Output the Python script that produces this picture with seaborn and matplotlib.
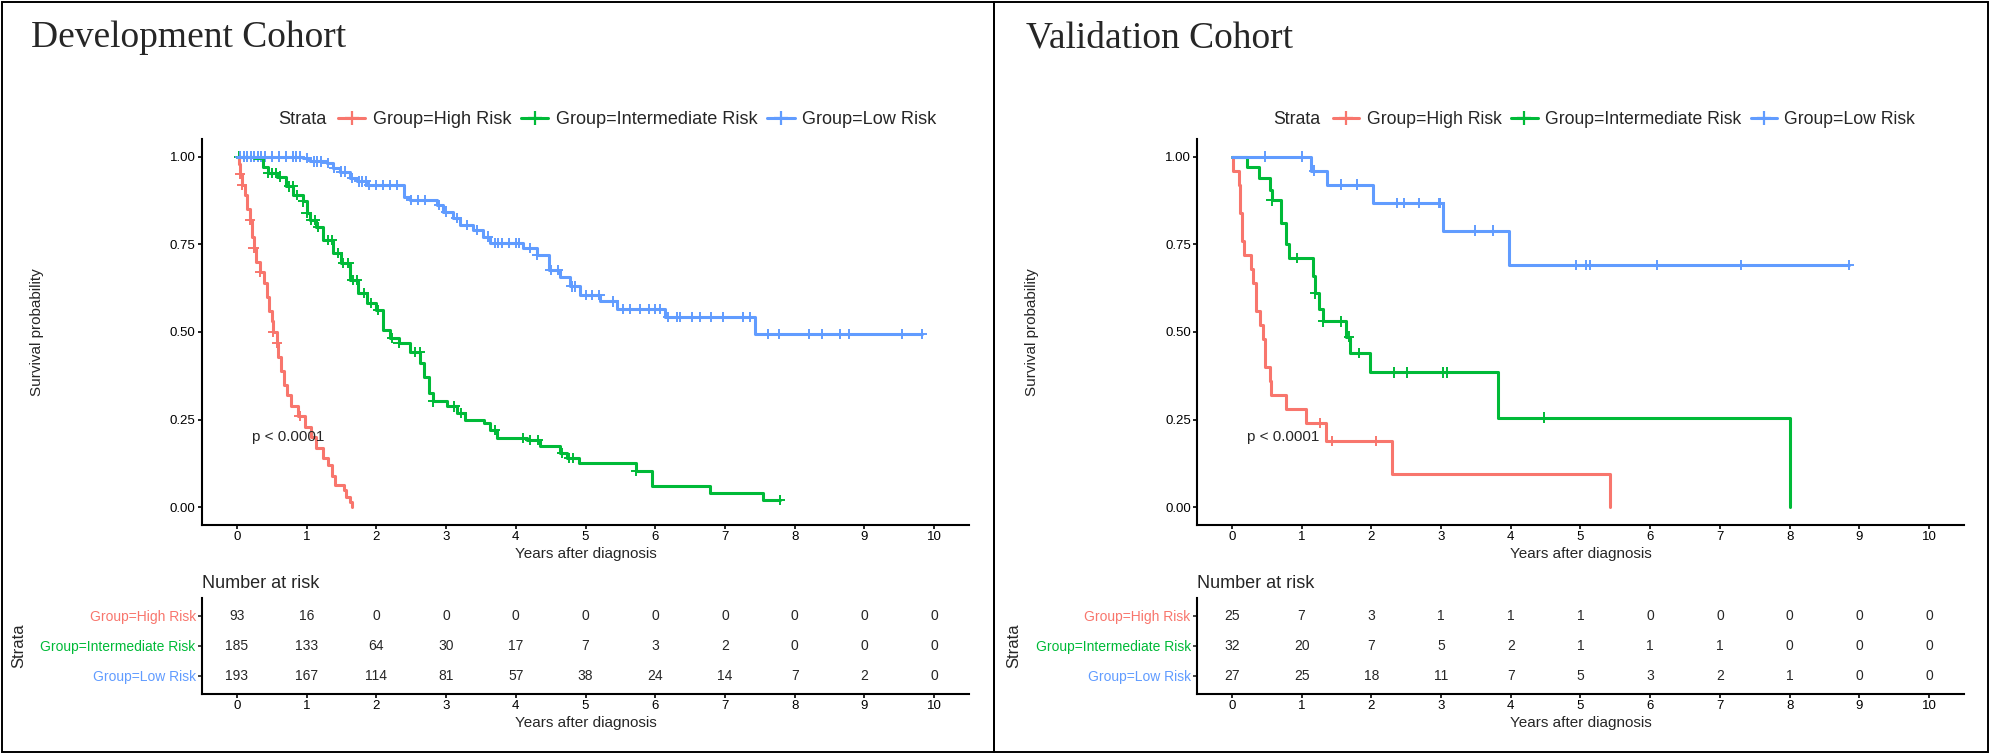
# Kaplan-Meier curves for the development and validation cohorts, with risk tables
import numpy as np
import pandas as pd
import seaborn as sns
import matplotlib.pyplot as plt
from matplotlib.lines import Line2D
from matplotlib.patches import Rectangle

sns.set_style("ticks")
plt.rcParams['font.family'] = ['Liberation Sans', 'DejaVu Sans']

# Groups, colours and risk table times
groups = ["Group=High Risk", "Group=Intermediate Risk", "Group=Low Risk"]
colors = ["#F8766D", "#00BA38", "#619CFF"]
years = [0, 1, 2, 3, 4, 5, 6, 7, 8, 9, 10]

# Development cohort: step points (time in years, survival)
dev_high_t = [0, 0.03, 0.04, 0.07, 0.12, 0.15, 0.19, 0.22, 0.24, 0.28, 0.33, 0.39, 0.43, 0.46,
              0.50, 0.52, 0.57, 0.59, 0.63, 0.68, 0.72, 0.78, 0.88, 0.98, 1.07, 1.14, 1.24,
              1.30, 1.36, 1.41, 1.53, 1.57, 1.62, 1.65]
dev_high_s = [1.0, 0.98, 0.95, 0.92, 0.89, 0.85, 0.82, 0.77, 0.74, 0.70, 0.67, 0.64, 0.60, 0.56,
              0.53, 0.50, 0.47, 0.43, 0.39, 0.35, 0.32, 0.29, 0.26, 0.23, 0.20, 0.17, 0.14,
              0.12, 0.09, 0.065, 0.05, 0.03, 0.015, 0.0]
dev_high_cens = [0.04, 0.07, 0.19, 0.24, 0.33, 0.52, 0.58, 0.90]

dev_int_t = [0, 0.25, 0.38, 0.45, 0.57, 0.71, 0.81, 0.95, 1.0, 1.05, 1.14, 1.24, 1.38, 1.50,
             1.62, 1.74, 1.86, 2.0, 2.1, 2.2, 2.32, 2.48, 2.63, 2.68, 2.75, 2.82, 3.01, 3.15,
             3.27, 3.54, 3.63, 3.73, 4.16, 4.35, 4.64, 4.73, 4.9, 5.73, 5.95, 6.79, 7.54, 7.79]
dev_int_s = [1.0, 0.995, 0.97, 0.953, 0.943, 0.915, 0.89, 0.872, 0.84, 0.82, 0.80, 0.763, 0.725,
             0.696, 0.649, 0.611, 0.582, 0.563, 0.506, 0.482, 0.468, 0.444, 0.411, 0.373, 0.325,
             0.302, 0.288, 0.269, 0.25, 0.24, 0.221, 0.198, 0.193, 0.174, 0.155, 0.141, 0.127,
             0.103, 0.062, 0.041, 0.022, 0.022]
dev_int_cens = [0.03, 0.45, 0.50, 0.56, 0.62, 0.75, 0.80, 0.86, 0.95, 1.0, 1.06, 1.12, 1.16, 1.30,
                1.36, 1.45, 1.52, 1.60, 1.66, 1.72, 1.82, 1.92, 2.02, 2.22, 2.32, 2.56, 2.62,
                2.82, 3.12, 3.22, 3.70, 4.10, 4.20, 4.32, 4.66, 4.76, 4.82, 5.73, 7.79]

dev_low_t = [0, 0.95, 1.05, 1.29, 1.38, 1.48, 1.62, 1.72, 1.86, 2.39, 2.48, 2.87, 2.96, 3.1, 3.2,
             3.39, 3.53, 3.63, 4.11, 4.3, 4.47, 4.63, 4.78, 4.92, 5.21, 5.45, 6.14, 7.43, 9.82]
dev_low_s = [1.0, 0.995, 0.986, 0.981, 0.967, 0.957, 0.938, 0.929, 0.919, 0.886, 0.877, 0.862,
             0.843, 0.824, 0.805, 0.791, 0.772, 0.753, 0.739, 0.72, 0.677, 0.658, 0.63, 0.606,
             0.587, 0.566, 0.543, 0.495, 0.495]
dev_low_cens = [0.05, 0.10, 0.15, 0.20, 0.25, 0.30, 0.35, 0.40, 0.50, 0.60, 0.70, 0.80, 0.85, 0.90,
                1.00, 1.10, 1.15, 1.20, 1.30, 1.40, 1.50, 1.55, 1.65, 1.75, 1.80, 1.85, 1.90,
                2.00, 2.10, 2.20, 2.30, 2.50, 2.60, 2.70, 2.90, 3.00, 3.15, 3.30, 3.45, 3.60,
                3.70, 3.75, 3.80, 3.90, 4.00, 4.05, 4.20, 4.30, 4.50, 4.60, 4.80, 4.85, 5.00,
                5.10, 5.20, 5.40, 5.54, 5.64, 5.78, 5.91, 6.00, 6.07, 6.19, 6.31, 6.36, 6.53,
                6.64, 6.80, 6.97, 7.26, 7.36, 7.62, 7.78, 8.21, 8.39, 8.65, 8.78, 9.54, 9.82]

dev_risk_high = [93, 16, 0, 0, 0, 0, 0, 0, 0, 0, 0]
dev_risk_int = [185, 133, 64, 30, 17, 7, 3, 2, 0, 0, 0]
dev_risk_low = [193, 167, 114, 81, 57, 38, 24, 14, 7, 2, 0]

# Validation cohort
val_high_t = [0, 0.02, 0.10, 0.12, 0.15, 0.17, 0.27, 0.31, 0.35, 0.40, 0.45, 0.48, 0.54, 0.56,
              0.77, 1.06, 1.35, 2.30, 5.42]
val_high_s = [1.0, 0.96, 0.92, 0.84, 0.76, 0.72, 0.68, 0.64, 0.56, 0.52, 0.48, 0.40, 0.36, 0.32,
              0.28, 0.24, 0.19, 0.095, 0.0]
val_high_cens = [1.27, 1.44, 2.07]

val_int_t = [0, 0.22, 0.385, 0.54, 0.57, 0.70, 0.77, 0.82, 1.17, 1.19, 1.25, 1.30, 1.63, 1.69,
             1.98, 3.82, 8.0]
val_int_s = [1.0, 0.969, 0.938, 0.906, 0.875, 0.81, 0.75, 0.71, 0.66, 0.61, 0.565, 0.53, 0.487,
             0.44, 0.385, 0.256, 0.0]
val_int_cens = [0.57, 0.93, 1.19, 1.31, 1.57, 1.68, 1.82, 2.32, 2.51, 3.03, 3.09, 4.48]

val_low_t = [0, 1.14, 1.37, 2.03, 3.03, 3.97, 8.85]
val_low_s = [1.0, 0.96, 0.92, 0.868, 0.789, 0.69, 0.69]
val_low_cens = [0.48, 1.0, 1.18, 1.56, 1.80, 2.37, 2.47, 2.68, 2.97, 2.99, 3.48, 3.75, 4.93,
                5.08, 5.13, 6.09, 7.30, 8.85]

val_risk_high = [25, 7, 3, 1, 1, 1, 0, 0, 0, 0, 0]
val_risk_int = [32, 20, 7, 5, 2, 1, 1, 1, 0, 0, 0]
val_risk_low = [27, 25, 18, 11, 7, 5, 3, 2, 1, 0, 0]

# Figure in pixels
W, H = 1991, 754
fig = plt.figure(figsize=(W / 100, H / 100), dpi=100)


def box(x0, y0, x1, y1):
    # pixel box (y from top) -> figure fraction
    return [x0 / W, 1 - y1 / H, (x1 - x0) / W, (y1 - y0) / H]


def draw_cohort(px, title, curves, censors, risks, leg_size):
    # curves: list of (t, s) per group
    ax = fig.add_axes(box(px, 139, px + 767, 525))
    frames = []
    cframes = []
    for g, (t, s), ct in zip(groups, curves, censors):
        frames.append(pd.DataFrame({"time": t, "surv": s, "group": g}))
        idx = np.searchsorted(t, ct, side="right") - 1
        cframes.append(pd.DataFrame({"time": ct, "surv": np.array(s)[idx], "group": g}))
    df = pd.concat(frames)
    cdf = pd.concat(cframes)

    sns.lineplot(data=df, x="time", y="surv", hue="group", hue_order=groups, palette=colors,
                 drawstyle="steps-post", estimator=None, legend=False, linewidth=2.2, ax=ax)
    sns.scatterplot(data=cdf, x="time", y="surv", hue="group", hue_order=groups, palette=colors,
                    marker="+", s=55, linewidth=1.4, legend=False, ax=ax)

    ax.set_xlim(-0.5, 10.5)
    ax.set_ylim(-0.05, 1.05)
    ax.set_xticks(years)
    ax.set_yticks([0, 0.25, 0.5, 0.75, 1.0])
    ax.set_yticklabels(["0.00", "0.25", "0.50", "0.75", "1.00"])
    sns.despine(ax=ax)
    for sp in ["left", "bottom"]:
        ax.spines[sp].set_linewidth(1.5)
        ax.spines[sp].set_color("black")
    ax.tick_params(length=3, width=1.2, labelsize=9.5, pad=1.5, colors="black")
    ax.set_xlabel("Years after diagnosis", fontsize=11)
    ax.xaxis.set_label_coords(0.5, -29 / 386)
    ax.xaxis.label.set_va("center")
    ax.set_ylabel("Survival probability", fontsize=11)
    ax.yaxis.set_label_coords(-165 / 767, 0.5)
    ax.yaxis.label.set_va("center")
    ax.text(0.21, 0.2, "p < 0.0001", fontsize=11, ha="left", va="center")

    # legend across the top
    fig.text((px + 76) / W, 1 - 120 / H, "Strata", fontsize=leg_size, va="center")
    handles = [Line2D([], [], color=c, lw=2.2, marker="+", markersize=10, mew=1.6) for c in colors]
    fig.legend(handles, groups, loc="center left", bbox_to_anchor=((px + 136) / W, 1 - 120 / H),
               ncol=3, frameon=False, fontsize=leg_size, handlelength=1.5, handletextpad=0.4,
               columnspacing=0.55, borderpad=0, borderaxespad=0)

    # title
    fig.text((px - 171) / W, 1 - 38 / H, title, fontsize=27, va="center",
             family="Liberation Serif")

    # risk table
    tab = fig.add_axes(box(px, 598, px + 767, 694))
    for row, counts in enumerate(risks):
        for yr, n in zip(years, counts):
            tab.text(yr, row, str(n), ha="center", va="center", fontsize=10)
    tab.set_xlim(-0.5, 10.5)
    tab.set_ylim(2.6, -0.6)
    tab.set_xticks(years)
    tab.set_yticks([0, 1, 2])
    tab.set_yticklabels(groups)
    for lab, c in zip(tab.get_yticklabels(), colors):
        lab.set_color(c)
    sns.despine(ax=tab)
    for sp in ["left", "bottom"]:
        tab.spines[sp].set_linewidth(1.5)
        tab.spines[sp].set_color("black")
    tab.tick_params(length=3, width=1.2, labelsize=9.5, pad=1.5)
    tab.tick_params(axis="y", labelsize=10)
    tab.tick_params(axis="x", colors="black")
    tab.set_xlabel("Years after diagnosis", fontsize=11)
    tab.xaxis.set_label_coords(0.5, -29 / 96)
    tab.xaxis.label.set_va("center")
    tab.set_ylabel("Strata", fontsize=12)
    tab.yaxis.set_label_coords(-183 / 767, 0.5)
    tab.yaxis.label.set_va("center")
    tab.text(0, 1 + 15 / 96, "Number at risk", transform=tab.transAxes, fontsize=13,
             ha="left", va="center")


draw_cohort(202, "Development Cohort",
            [(dev_high_t, dev_high_s), (dev_int_t, dev_int_s), (dev_low_t, dev_low_s)],
            [dev_high_cens, dev_int_cens, dev_low_cens],
            [dev_risk_high, dev_risk_int, dev_risk_low], 13.1)
draw_cohort(1197, "Validation Cohort",
            [(val_high_t, val_high_s), (val_int_t, val_int_s), (val_low_t, val_low_s)],
            [val_high_cens, val_int_cens, val_low_cens],
            [val_risk_high, val_risk_int, val_risk_low], 12.7)

# panel frames
fig.add_artist(Rectangle((1.5 / W, 2 / H), (994 - 1.5) / W, (752 - 2) / H,
                         transform=fig.transFigure, fill=False, lw=1.4, ec="black"))
fig.add_artist(Rectangle((994 / W, 2 / H), (1988 - 994) / W, (752 - 2) / H,
                         transform=fig.transFigure, fill=False, lw=1.4, ec="black"))

fig.savefig("out.png", dpi=100)
